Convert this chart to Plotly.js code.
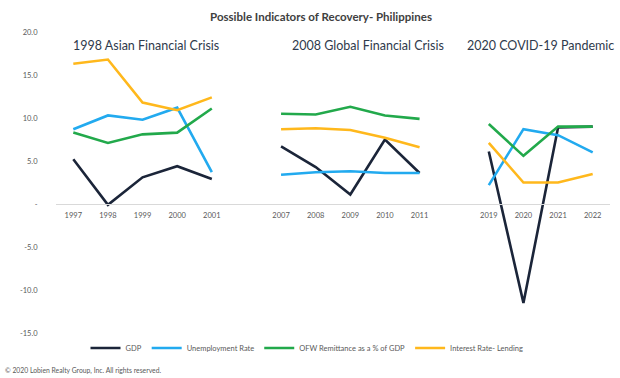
<!DOCTYPE html>
<html>
<head>
<meta charset="utf-8">
<script src="https://cdn.plot.ly/plotly-3.0.1.min.js"></script>
<style>html,body{margin:0;padding:0;background:#fff;}#chart{width:620px;height:378px;}</style>
</head>
<body>
<div id="chart"></div>
<script>
// Category slots (blank slots separate the three periods)
const categories = ['1997','1998','1999','2000','2001',' ','2007','2008','2009','2010','2011','  ','2019','2020','2021','2022'];

// Series values (null = gap between periods)
const gdp          = [5.2, -0.1, 3.1, 4.4, 2.9, null, 6.7, 4.3, 1.1, 7.5, 3.6, null, 6.1, -11.5, 8.9, 9.0];
const unemployment = [8.7, 10.3, 9.8, 11.2, 3.7, null, 3.4, 3.7, 3.8, 3.6, 3.6, null, 2.2, 8.7, 8.0, 6.0];
const ofwRemit     = [8.3, 7.1, 8.1, 8.3, 11.1, null, 10.5, 10.4, 11.3, 10.3, 9.9, null, 9.3, 5.6, 9.0, 9.0];
const interestRate = [16.3, 16.8, 11.8, 10.9, 12.4, null, 8.7, 8.8, 8.6, 7.7, 6.6, null, 7.1, 2.5, 2.5, 3.5];

const seriesNames = ['GDP', 'Unemployment Rate', 'OFW Remittance as a % of GDP', 'Interest Rate- Lending'];
const periodTitles = ['1998 Asian Financial Crisis', '2008 Global Financial Crisis', '2020 COVID-19 Pandemic'];

const yTickVals = [20, 15, 10, 5, 0, -5, -10, -15];
const yTickText = ['20.0', '15.0', '10.0', '5.0', '-', '-5.0', '-10.0', '-15.0'];

const colors = ['#1b2539', '#22aaef', '#22a94b', '#ffb81c'];
const seriesData = [gdp, unemployment, ofwRemit, interestRate];

const FONT = 'Lato, Open Sans, sans-serif';

const traces = seriesData.map((vals, i) => ({
  type: 'scatter',
  mode: 'lines',
  x: categories,
  y: vals,
  name: seriesNames[i],
  line: {color: colors[i], width: 2.6},
  connectgaps: false,
  hoverinfo: 'skip'
}));

const titleFont = {family: FONT, size: 12.5, color: '#2f3a4c'};
const annXs = [146, 368, 616];
const annAnchor = ['center', 'center', 'right'];
const annotations = periodTitles.map((t, i) => ({
  text: t, xref: 'paper', yref: 'paper',
  x: (annXs[i] - 56) / 554, y: 1 - (46 - 32) / 301,
  xanchor: annAnchor[i], yanchor: 'middle', showarrow: false, font: titleFont
}));
annotations.push({
  text: '© 2020 Lobien Realty Group, Inc. All rights reserved.',
  xref: 'paper', yref: 'paper', x: (3 - 56) / 554, y: -(370 - 333) / 301,
  xanchor: 'left', yanchor: 'middle', showarrow: false,
  font: {family: FONT, size: 6.8, color: '#595959'}
});

const layout = {
  width: 620, height: 378,
  margin: {l: 56, r: 10, t: 32, b: 45},
  paper_bgcolor: '#ffffff', plot_bgcolor: '#ffffff',
  title: {
    text: '<b>Possible Indicators of Recovery- Philippines</b>',
    x: 321 / 620, xanchor: 'center', y: 1 - 17 / 378, yanchor: 'middle',
    font: {family: FONT, size: 11.5, color: '#404040'}
  },
  xaxis: {
    type: 'category',
    categoryorder: 'array', categoryarray: categories,
    range: [-0.5, 15.5],
    anchor: 'free', position: 15 / 35,
    showline: true, linecolor: '#d9d9d9', linewidth: 1,
    showgrid: false, zeroline: false,
    ticks: 'outside', ticklen: 4, tickcolor: 'rgba(0,0,0,0)',
    tickfont: {family: FONT, size: 7.5, color: '#595959'},
    fixedrange: true
  },
  yaxis: {
    range: [-15, 20],
    tickvals: yTickVals, ticktext: yTickText,
    showgrid: false, zeroline: false, showline: false,
    ticks: 'outside', ticklen: 16, tickcolor: 'rgba(0,0,0,0)',
    tickfont: {family: FONT, size: 7.5, color: '#595959'},
    fixedrange: true
  },
  legend: {
    orientation: 'h', x: (307 - 56) / 554, xanchor: 'center',
    y: -(348 - 333) / 301, yanchor: 'middle',
    font: {family: FONT, size: 7.5, color: '#595959'},
    bgcolor: 'rgba(0,0,0,0)', itemwidth: 30
  },
  annotations: annotations,
  showlegend: true
};

Plotly.newPlot('chart', traces, layout, {displayModeBar: false, staticPlot: true});
</script>
</body>
</html>
